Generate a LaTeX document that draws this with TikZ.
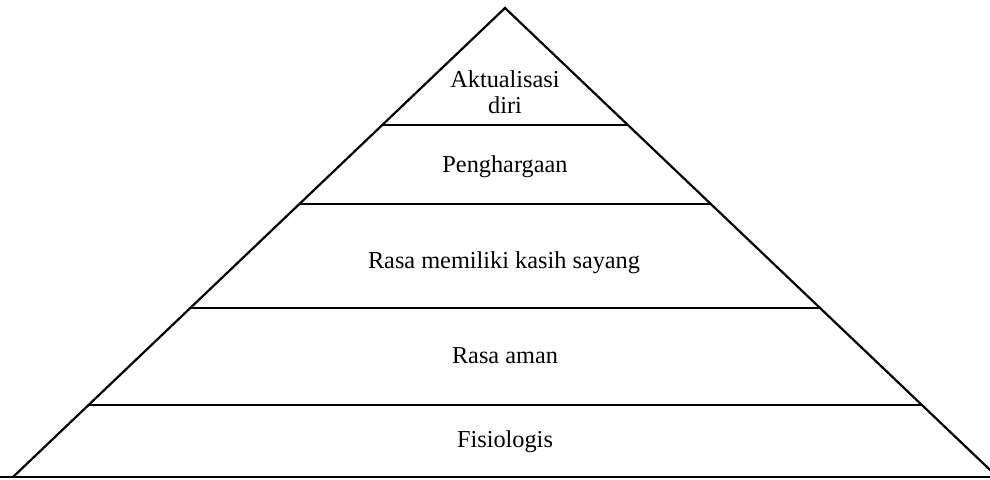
\documentclass[tikz,border=0pt]{standalone}
\usepackage{fontspec}
\setmainfont{Liberation Serif}
\begin{document}
\begin{tikzpicture}[x=1pt,y=-1pt,
  edge/.style={line width=2.2pt,line join=miter},
  lbl/.style={anchor=base,inner sep=0pt,font=\fontsize{24.3}{26}\selectfont,align=center}]
\useasboundingbox (0,0) rectangle (990,479);
\clip (0,0) rectangle (990,479);
\coordinate (apex) at (505,8);
\coordinate (bl) at (13,477);
\coordinate (br) at (997.5,477);
\draw[edge] (bl) -- (apex) -- (br);
\draw[edge] (0,477) -- (990,477);
% band separators
\coordinate (l1) at (382.5,125); \coordinate (r1) at (628,125);
\coordinate (l2) at (300,204);   \coordinate (r2) at (711,204);
\coordinate (l3) at (190.5,308); \coordinate (r3) at (820,308);
\coordinate (l4) at (89,405);    \coordinate (r4) at (922,405);
\draw[edge] (l1) -- (r1);
\draw[edge] (l2) -- (r2);
\draw[edge] (l3) -- (r3);
\draw[edge] (l4) -- (r4);
\node[lbl] (t1) at (505,87) {Aktualisasi};
\node[lbl] (t1b) at (505,113) {diri};
\node[lbl] (t2) at (505,172) {Penghargaan};
\node[lbl] (t3) at (504,268) {Rasa memiliki kasih sayang};
\node[lbl] (t4) at (505,363) {Rasa aman};
\node[lbl] (t5) at (505,447) {Fisiologis};
\end{tikzpicture}
\end{document}
